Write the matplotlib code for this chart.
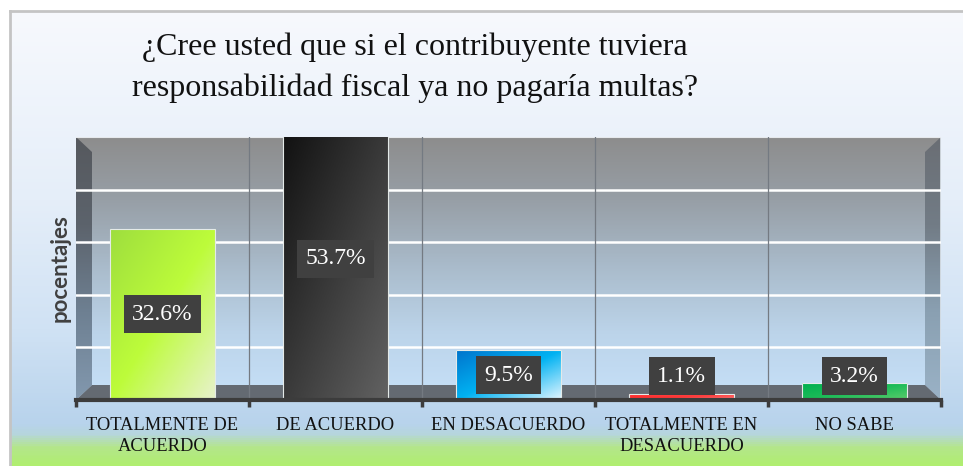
import numpy as np
import matplotlib
matplotlib.use("Agg")
import matplotlib.pyplot as plt
from matplotlib.colors import LinearSegmentedColormap, to_rgb
from matplotlib.patches import Polygon

# ---------------- data ----------------
categories = ["TOTALMENTE DE\nACUERDO", "DE ACUERDO", "EN DESACUERDO",
              "TOTALMENTE EN\nDESACUERDO", "NO SABE"]
values = [32.6, 53.7, 9.5, 1.1, 3.2]
value_labels = ["32.6%", "53.7%", "9.5%", "1.1%", "3.2%"]
title = "¿Cree usted que si el contribuyente tuviera\nresponsabilidad fiscal ya no pagaría multas?"
ylabel = "pocentajes"
ymax = 50
grid_values = [10, 20, 30, 40]

# bar gradient colours: (top-left, middle, bottom-right)
bar_grads = [
    ("#9ede3e", "#bdfc3a", "#e8f2cc"),
    ("#121212", "#3a3a3a", "#626262"),
    ("#0074cc", "#00b2f2", "#e4f6ff"),
    ("#ff2a2a", "#ff3838", "#ff8a8a"),
    ("#00b050", "#1cbc58", "#5ccc6c"),
]

W, H = 963, 466
fig = plt.figure(figsize=(W / 100, H / 100), dpi=100)

# ---------------- background ----------------
bg = fig.add_axes([0, 0, 1, 1])
bg.set_xlim(0, W)
bg.set_ylim(H, 0)
bg.axis("off")
stops = [(0.0, "#ffffff"), (10 / H, "#f7f9fd"), (200 / H, "#e5eef9"),
         (330 / H, "#d0e2f4"), (425 / H, "#b8d3ec"), (436 / H, "#b6d6dc"),
         (448 / H, "#b4e68c"), (1.0, "#b0ee70")]
cm_bg = LinearSegmentedColormap.from_list("bg", stops)
grad = np.linspace(0, 1, 466).reshape(-1, 1)
bg.imshow(grad, cmap=cm_bg, extent=[0, W, H, 0], aspect="auto", zorder=0)
bg.add_patch(plt.Rectangle((0, 0), W, 9.5, color="white", zorder=1))
bg.add_patch(plt.Rectangle((0, 0), 8.5, H, color="white", zorder=1))
bg.plot([9.5, W], [10.5, 10.5], color="#c4c4c4", lw=2, zorder=2)
bg.plot([9.5, 9.5], [10.5, H], color="#c4c4c4", lw=2, zorder=2)

# ---------------- plot area ----------------
L, R, T, B = 76, 941, 137, 400
ax = fig.add_axes([L / W, 1 - B / H, (R - L) / W, (B - T) / H])
ax.set_xlim(-0.5, len(values) - 0.5)
ax.set_ylim(0, ymax)
ax.patch.set_alpha(0)

vgrad = np.linspace(0, 1, 200).reshape(-1, 1)  # row 0 = top

# back wall gradient (gray at top, light blue at bottom)
cm_wall = LinearSegmentedColormap.from_list(
    "wall", ["#8d8d8d", "#98a0a8", "#aabccc", "#bcd4ea", "#c6e0f8"])
ax.imshow(vgrad, cmap=cm_wall, origin="upper",
          extent=[0, 1, 0, 1], transform=ax.transAxes, aspect="auto", zorder=0)

dxf = 16 / (R - L)
dyf = 15 / (B - T)

def grad_poly(pts, cols, z):
    poly = Polygon(pts, closed=True, transform=ax.transAxes, facecolor="none",
                   edgecolor="none", zorder=z)
    ax.add_patch(poly)
    cmp = LinearSegmentedColormap.from_list("w", cols)
    im = ax.imshow(vgrad, cmap=cmp, origin="upper",
                   extent=[0, 1, 0, 1], transform=ax.transAxes,
                   aspect="auto", zorder=z)
    im.set_clip_path(poly)

# left wall
grad_poly([(0, 1), (dxf, 1 - dyf), (dxf, dyf), (0, 0)],
          ["#56595e", "#5c636c", "#6e8092", "#8298ae"], 1)
# right wall
grad_poly([(1, 1), (1 - dxf, 1 - dyf), (1 - dxf, dyf), (1, 0)],
          ["#6a6e74", "#727c86", "#8aa0b2", "#9ab2c6"], 1)
# floor
floor = Polygon([(0, 0), (dxf, dyf), (1 - dxf, dyf), (1, 0)], closed=True,
                transform=ax.transAxes, facecolor="#646a72", edgecolor="none",
                zorder=1.2)
ax.add_patch(floor)
# light right edge & top edge
ax.plot([1, 1], [0, 1], transform=ax.transAxes, color="#dfe6ec", lw=1.2, zorder=1.5)
ax.plot([0, 1], [1, 1], transform=ax.transAxes, color="#e6e9ec", lw=1.5, zorder=1.5)

# gridlines
for g in grid_values:
    ax.axhline(g, color="white", lw=1.8, zorder=2)

# category separators
for i in range(1, len(values)):
    ax.axvline(i - 0.5, color="#747a82", lw=0.9, zorder=2.1)

# bars
width = 0.61
bars = ax.bar(range(len(values)), values, width=width, color="none",
              edgecolor="#e4eae8", lw=0.8, zorder=3)
for b, (c0, c1, c2) in zip(bars, bar_grads):
    x0 = b.get_x()
    x1 = x0 + b.get_width()
    h = min(b.get_height(), ymax)
    n = 60
    xx, yy = np.meshgrid(np.linspace(0, 1, n), np.linspace(0, 1, n))
    t = (xx + yy) / 2  # 0 top-left, 1 bottom-right
    a0, a1, a2 = (np.array(to_rgb(c)) for c in (c0, c1, c2))
    img = np.where(t[..., None] < 0.5,
                   a0 + (a1 - a0) * (t[..., None] / 0.5),
                   a1 + (a2 - a1) * ((t[..., None] - 0.5) / 0.5))
    im = ax.imshow(img, extent=[x0, x1, 0, h], origin="upper",
                   aspect="auto", zorder=2.9)
    im.set_clip_path(b)

ax.set_xlim(-0.5, len(values) - 0.5)
ax.set_ylim(0, ymax)

# value labels
for i, (v, lab) in enumerate(zip(values, value_labels)):
    y = max(v / 2, 4.55)
    ax.text(i, y, lab, ha="center", va="center", color="white",
            family="Liberation Serif", fontsize=17, zorder=5,
            bbox=dict(boxstyle="square,pad=0.36", facecolor="#404040",
                      edgecolor="none"))

# axes styling
for s in ["top", "right", "left"]:
    ax.spines[s].set_visible(False)
ax.spines["bottom"].set_color("#3c3c3c")
ax.spines["bottom"].set_linewidth(3)
ax.spines["bottom"].set_zorder(4)
ax.set_yticks([])
ax.set_xticks(range(len(values)))
ax.set_xticklabels(categories, family="Liberation Serif", fontsize=13.3,
                   color="#111111", linespacing=1.3)
ax.tick_params(axis="x", which="major", length=0, pad=12)
ax.set_xticks([i - 0.5 for i in range(len(values) + 1)], minor=True)
ax.tick_params(axis="x", which="minor", length=5, width=2.5, color="#3c3c3c",
               direction="out")
ax.set_ylabel(ylabel, family="Lato", fontweight="bold", fontsize=16,
              color="#404040", labelpad=4)

# title
fig.text(415 / W, 1 - 68 / H, title, ha="center", va="center",
         family="Liberation Serif", fontsize=23, color="#111111",
         linespacing=1.5)

fig.savefig("out.png", dpi=100)
